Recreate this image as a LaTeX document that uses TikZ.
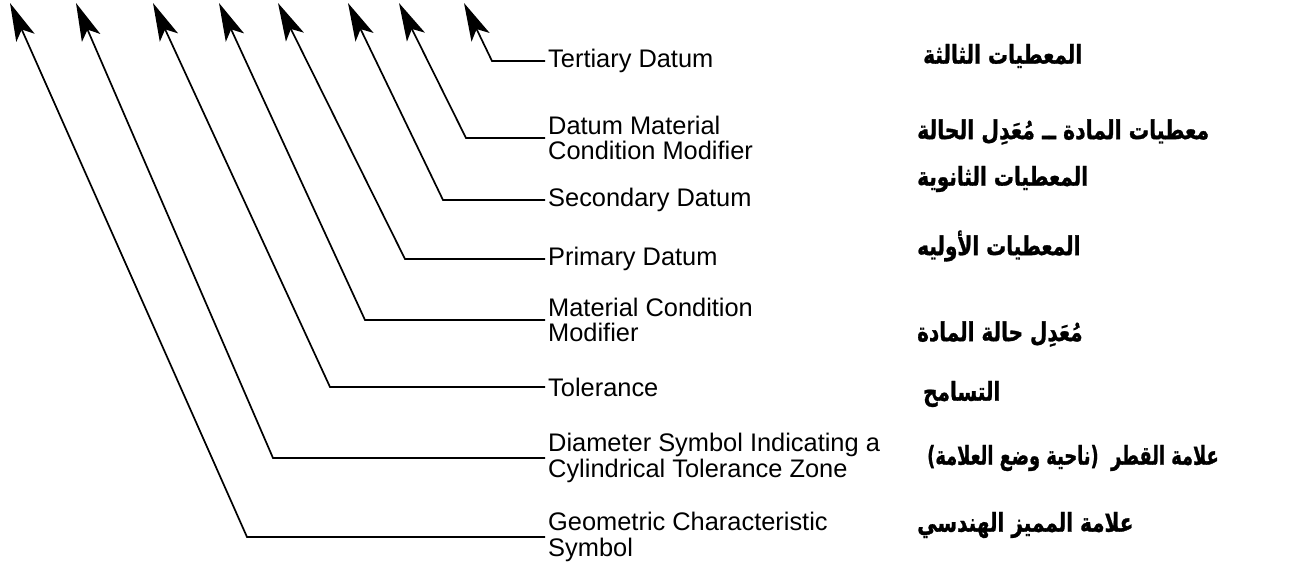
\documentclass[tikz,border=0pt]{standalone}
\usepackage{fontspec}
\setmainfont{Liberation Sans}
\newfontfamily\arabicfont[Script=Arabic, BoldFeatures={FakeBold=1.2}]{DejaVu Sans}
\TeXXeTstate=1
\usetikzlibrary{arrows.meta}
\newcommand{\artext}[2][1]{\scalebox{#1}[1.3]{\beginR #2\endR}}
\begin{document}
\begin{tikzpicture}[x=1pt,y=-1pt,
  conn/.style={line width=1.7pt, line join=miter, -{Stealth[length=38pt,width=20pt,inset=9pt]}},
  en/.style={anchor=west, inner xsep=3pt, inner ysep=0pt, font=\fontsize{25.4}{25.4}\selectfont, align=left},
  ar/.style={anchor=west, inner sep=0pt, font=\arabicfont\bfseries\fontsize{20}{24}\selectfont}]
\useasboundingbox (0,0) rectangle (1296,563);

% arrow tips and corner x positions
\coordinate (t1) at (464,3);  \coordinate (c1) at (492,0);
\coordinate (t2) at (399,3);  \coordinate (c2) at (466,0);
\coordinate (t3) at (348,3);  \coordinate (c3) at (443,0);
\coordinate (t4) at (278,3);  \coordinate (c4) at (405,0);
\coordinate (t5) at (219,3);  \coordinate (c5) at (365,0);
\coordinate (t6) at (153,3);  \coordinate (c6) at (330,0);
\coordinate (t7) at (76,3);   \coordinate (c7) at (273,0);
\coordinate (t8) at (10,3);   \coordinate (c8) at (247,0);

% English labels
\node[en] (l1) at (545,61)  {Tertiary Datum};
\node[en] (l2) at (545,138) {Datum Material\\Condition Modifier};
\node[en] (l3) at (545,200) {Secondary Datum};
\node[en] (l4) at (545,259) {Primary Datum};
\node[en] (l5) at (545,320) {Material Condition\\Modifier};
\node[en] (l6) at (545,387) {Tolerance};
\node[en] (l7) at (545,458) {Diameter Symbol Indicating a\\Cylindrical Tolerance Zone};
\node[en] (l8) at (545,537) {Geometric Characteristic\\Symbol};

% connectors
\foreach \i in {1,...,8}{
  \draw[conn] (l\i.west) -- (l\i.west -| c\i) -- (t\i);
}

% Arabic labels
\node[ar] (a1) at (923,56)  {\artext{المعطيات الثالثة}};
\node[ar] (a2) at (917,132) {\artext[1.02]{معطيات المادة ــ مُعَدِل الحالة}};
\node[ar] (a3) at (917,179) {\artext{المعطيات الثانوية}};
\node[ar] (a4) at (917,246) {\artext{المعطيات الأوليه}};
\node[ar] (a5) at (917,334) {\artext{مُعَدِل حالة المادة}};
\node[ar] (a6) at (923,394) {\artext{التسامح}};
\node[ar] (a7) at (927,458) {\artext[0.89]{علامة القطر\ \ (ناحية وضع العلامة)}};
\node[ar] (a8) at (917,525) {\artext{علامة المميز الهندسي}};
\end{tikzpicture}
\end{document}
